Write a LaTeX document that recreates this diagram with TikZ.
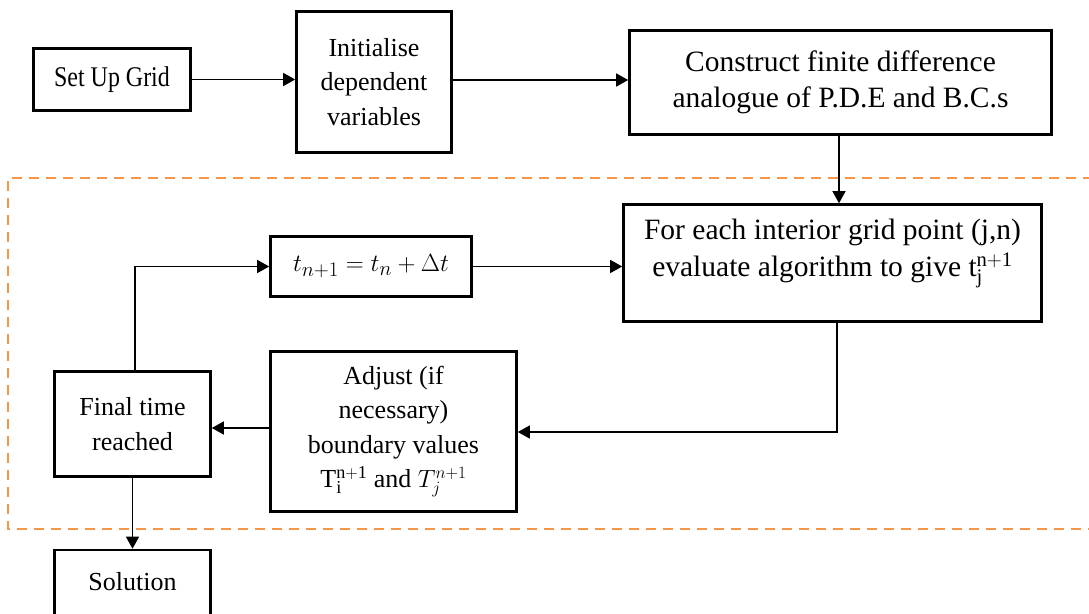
\documentclass[tikz,border=0pt]{standalone}
\usepackage{fontspec}
\setmainfont{Liberation Serif}
\newfontfamily\narrowserif[FakeStretch=0.84]{Liberation Serif}
\usetikzlibrary{arrows.meta,positioning}
\definecolor{dashorange}{HTML}{F79646}
\tikzset{
  box/.style={draw=black, line width=2.6pt, rectangle, align=center, inner sep=0pt,
    font=\fontsize{26}{34.5}\selectfont},
  bigtext/.style={font=\fontsize{29.5}{36}\selectfont},
  link/.style={draw=black, line width=1.4pt, -{Triangle[length=12pt,width=13pt]}},
  loopframe/.style={draw=dashorange, line width=2pt, dash pattern=on 10pt off 7pt}
}
\begin{document}
\begin{tikzpicture}[x=1pt,y=-1pt]
\useasboundingbox (0,0) rectangle (1089,613);
\clip (0,0) rectangle (1089,613);

% iteration region
\draw[loopframe] (1110,178) -- (8,178) -- (8,529) -- (1110,529);

% set-up stage
\node[box, minimum width=157pt, minimum height=62pt, font=\narrowserif\fontsize{28.5}{34}\selectfont] (setup) at (112,79.5) {Set Up Grid};
\node[box, minimum width=155pt, minimum height=141pt] (init) at (374,82) {Initialise\\dependent\\variables};
\node[box, bigtext, minimum width=422pt, minimum height=104pt] (cons) at (840.5,82.5) {Construct finite difference\\analogue of P.D.E and B.C.s};

% time loop
\node[box, minimum width=418pt, minimum height=117pt] (fe) at (832.5,263) {};
\node[bigtext, align=center, anchor=north, inner sep=0pt] (fetext) at (832.5,219)
  {For each interior grid point (j,n)\\[1pt]evaluate algorithm to give t$_{\mathrm{j}}^{\mathrm{n+1}}$};
\node[box, minimum width=201pt, minimum height=60pt, font=\fontsize{28}{34}\selectfont] (tb) at (371,266.5) {$t_{n+1} = t_n + \Delta t$};
\node[box, minimum width=246pt, minimum height=160pt] (adj) at (393.5,431.5)
  {Adjust (if\\necessary)\\boundary values\\T$_{\mathrm{i}}^{\mathrm{n+1}}$ and $T_j^{n+1}$};
\node[box, minimum width=156pt, minimum height=105pt] (fin) at (132.5,424) {Final time\\reached};

% result
\node[box, minimum width=156pt, minimum height=100pt] (sol) at (132.5,600) {};
\node[font=\fontsize{26}{34}\selectfont, anchor=base, inner sep=0pt] (soltext) at (132.5,590) {Solution};

% connectors
\draw[link] (setup.east) -- (setup.east -| init.west);
\draw[link] (init.east |- 0,80) -- (cons.west |- 0,80);
\draw[link] (cons.south -| 839,0) -- (fe.north -| 839,0);
\draw[link] (tb.east) -- (tb.east -| fe.west);
\draw[link] (fe.south -| 837,0) |- (adj.east |- 0,432);
\draw[link] (adj.west |- 0,428) -- (fin.east |- 0,428);
\draw[link] (fin.north -| 135,0) |- (tb.west);
\draw[link] (fin.south) -- (sol.north);
\end{tikzpicture}
\end{document}
